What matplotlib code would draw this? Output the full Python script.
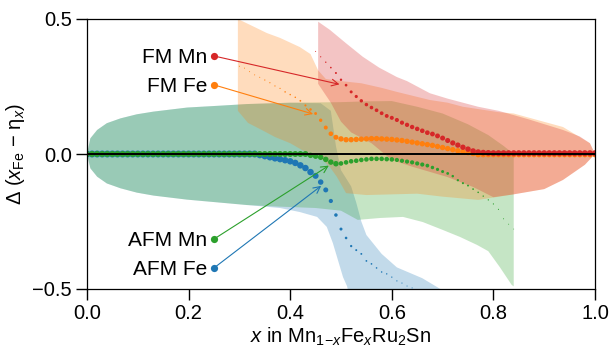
import numpy as np
import matplotlib
matplotlib.use("Agg")
import matplotlib.pyplot as plt
from matplotlib.ticker import FuncFormatter

plt.rcParams['font.family'] = ['Liberation Sans', 'DejaVu Sans']
plt.rcParams['mathtext.fontset'] = 'custom'
plt.rcParams['mathtext.rm'] = 'Liberation Sans'
plt.rcParams['mathtext.it'] = 'Liberation Sans:italic'
plt.rcParams['mathtext.bf'] = 'Liberation Sans:bold'

# --- data (step 0.01 in x) ---
# FM Mn (red)
fm_mn_x = np.round(np.arange(0.45, 1.001, 0.01), 2)
fm_mn_y = [0.38, 0.36, 0.34, 0.32, 0.30, 0.275, 0.255, 0.23, 0.213, 0.197,
           0.183, 0.172, 0.162, 0.151, 0.141, 0.134, 0.126, 0.116, 0.108, 0.100,
           0.093, 0.086, 0.079, 0.074, 0.067, 0.059, 0.050, 0.041, 0.033, 0.025,
           0.018, 0.011, 0.007, 0.005, 0.004] + [0.003] * 21
fm_mn_w = [1.0, 1.2, 1.4, 1.7, 2.0, 2.4, 2.7, 3.0, 3.2, 3.4,
           3.5, 3.6, 3.7, 3.8, 3.9, 4.0, 4.1, 4.2, 4.3, 4.4,
           4.5, 4.6, 4.7, 4.8, 4.9, 5.0, 5.1, 5.2, 5.3, 5.4,
           5.5, 5.6, 5.7, 5.8, 5.9] + [6.0] * 21

# FM Fe (orange)
fm_fe_x = np.round(np.arange(0.30, 1.001, 0.01), 2)
fm_fe_y = [0.325, 0.318, 0.305, 0.293, 0.284, 0.274, 0.264, 0.252, 0.243, 0.23,
           0.22, 0.21, 0.197, 0.18, 0.165, 0.15, 0.125, 0.098, 0.075, 0.062,
           0.056, 0.053, 0.053, 0.054, 0.055, 0.056, 0.057, 0.057, 0.056, 0.055,
           0.054, 0.052, 0.05, 0.047, 0.044, 0.041, 0.038, 0.035, 0.032, 0.028,
           0.024, 0.02, 0.016, 0.012, 0.008, 0.005, 0.002] + [-0.002] * 24
fm_fe_w = [1.0] * 5 + [1.2] * 4 + [1.5] * 3 + [1.8, 2.1, 2.5, 2.9, 3.4, 4.0, 4.6, 5.0] \
    + [5.4] * 26 + [5.6] * 25

# AFM Mn (green)
afm_mn_x = np.round(np.arange(0.0, 0.841, 0.01), 2)
afm_mn_y = [0.0] * 44 + [
    -0.005, -0.008, -0.012, -0.02, -0.03, -0.036, -0.035, -0.031, -0.027, -0.025,
    -0.022, -0.02, -0.018, -0.018, -0.018, -0.019, -0.02, -0.022, -0.025, -0.028,
    -0.031, -0.035, -0.039, -0.043, -0.05, -0.057, -0.065, -0.072, -0.082, -0.097,
    -0.108, -0.117, -0.13, -0.142, -0.156, -0.17, -0.185, -0.205, -0.24, -0.26,
    -0.278]
afm_mn_w = [6.0] * 44 + [5.5] * 6 + [4.6] * 11 + [4.2] * 6 + [
    3.8, 3.5, 3.2, 3.0, 2.8, 2.5, 2.3, 2.1, 1.9, 1.7, 1.6, 1.4, 1.3, 1.2, 1.1, 1.0, 0.9, 0.8]

# AFM Fe (blue)
afm_fe_x = np.round(np.arange(0.0, 0.641, 0.01), 2)
afm_fe_y = [0.0] * 34 + [
    -0.004, -0.008, -0.012, -0.016, -0.019, -0.023, -0.027, -0.033, -0.042, -0.052,
    -0.067, -0.081, -0.104, -0.133, -0.174, -0.226, -0.278, -0.311, -0.341, -0.356,
    -0.37, -0.396, -0.407, -0.422, -0.437, -0.444, -0.456, -0.47, -0.478, -0.489,
    -0.496]
afm_fe_w = [7.0] * 34 + [6.5] * 11 + [
    6.0, 5.5, 5.0, 4.2, 3.5, 3.0, 2.6, 2.3, 2.0, 1.9, 1.8, 1.7, 1.6, 1.5, 1.4, 1.3,
    1.2, 1.1, 1.0, 1.0]

# uncertainty bands (upper edge / lower edge)
afm_fe_up_x = [0.0, 0.0066, 0.02, 0.039, 0.066, 0.098, 0.131, 0.197, 0.262, 0.315,
               0.40, 0.46, 0.48, 0.49, 0.50, 0.52, 0.53, 0.54, 0.55, 0.58, 0.61, 0.66, 0.70, 0.72]
afm_fe_up_y = [0.0, 0.058, 0.089, 0.114, 0.132, 0.147, 0.157, 0.172, 0.179, 0.185,
               0.19, 0.188, 0.16, 0.03, -0.06, -0.12, -0.18, -0.25, -0.30, -0.37, -0.42, -0.46, -0.505, -0.56]
afm_fe_lo_x = [0.0, 0.0066, 0.02, 0.039, 0.066, 0.098, 0.131, 0.197, 0.262, 0.315,
               0.38, 0.419, 0.453, 0.472, 0.484, 0.494, 0.504, 0.512, 0.52]
afm_fe_lo_y = [0.0, -0.053, -0.084, -0.109, -0.127, -0.143, -0.154, -0.169, -0.18, -0.189,
               -0.2, -0.215, -0.233, -0.27, -0.33, -0.393, -0.456, -0.49, -0.56]

afm_mn_up_x = [0.0, 0.0066, 0.02, 0.039, 0.066, 0.098, 0.131, 0.197, 0.262, 0.315,
               0.40, 0.50, 0.55, 0.60, 0.65, 0.70, 0.75, 0.79, 0.82, 0.84]
afm_mn_up_y = [0.0, 0.058, 0.089, 0.114, 0.132, 0.147, 0.157, 0.172, 0.179, 0.185,
               0.19, 0.192, 0.195, 0.196, 0.175, 0.15, 0.11, 0.07, 0.03, 0.0]
afm_mn_lo_x = [0.0, 0.0066, 0.02, 0.039, 0.066, 0.098, 0.131, 0.197, 0.262, 0.315,
               0.38, 0.45, 0.50, 0.533, 0.577, 0.622, 0.661, 0.70, 0.734, 0.768,
               0.79, 0.813, 0.836, 0.84]
afm_mn_lo_y = [0.0, -0.053, -0.084, -0.109, -0.127, -0.143, -0.154, -0.169, -0.18, -0.189,
               -0.195, -0.2, -0.21, -0.244, -0.237, -0.233, -0.252, -0.281, -0.307, -0.337,
               -0.36, -0.42, -0.485, -0.49]

fm_fe_up_x = [0.297, 0.33, 0.354, 0.38, 0.419, 0.44, 0.455, 0.47, 0.50, 0.54, 0.58,
              0.61, 0.675, 0.71, 0.74, 0.81, 0.84, 0.937, 0.99, 1.0]
fm_fe_up_y = [0.50, 0.47, 0.448, 0.43, 0.396, 0.37, 0.31, 0.278, 0.27, 0.262, 0.245,
              0.23, 0.2, 0.19, 0.175, 0.155, 0.15, 0.10, 0.04, 0.0]
fm_fe_lo_x = [0.297, 0.317, 0.344, 0.37, 0.40, 0.423, 0.44, 0.46, 0.478, 0.492,
              0.51, 0.55, 0.65, 0.70, 0.77, 0.838, 0.9, 0.937, 0.98, 1.0]
fm_fe_lo_y = [0.16, 0.115, 0.089, 0.063, 0.04, 0.015, 0.0, -0.015, -0.048, -0.085,
              -0.145, -0.152, -0.147, -0.158, -0.17, -0.15, -0.13, -0.096, -0.04, 0.0]

fm_mn_up_x = [0.455, 0.478, 0.51, 0.543, 0.575, 0.61, 0.63, 0.675, 0.71, 0.77,
              0.81, 0.87, 0.937, 0.97, 0.99, 1.0]
fm_mn_up_y = [0.49, 0.46, 0.41, 0.36, 0.32, 0.285, 0.27, 0.225, 0.205, 0.175,
              0.16, 0.128, 0.089, 0.065, 0.04, 0.0]
fm_mn_lo_x = [0.455, 0.48, 0.50, 0.52, 0.56, 0.60, 0.642, 0.709, 0.76, 0.80,
              0.838, 0.9, 0.937, 0.98, 1.0]
fm_mn_lo_y = [0.26, 0.19, 0.12, 0.08, 0.04, -0.022, -0.048, -0.085, -0.122, -0.16,
              -0.15, -0.13, -0.096, -0.04, 0.0]

labels = ["FM Mn", "FM Fe", "AFM Mn", "AFM Fe"]
label_y = [0.363, 0.256, -0.315, -0.422]
arrow_to = [(0.497, 0.258), (0.445, 0.148), (0.476, -0.043), (0.461, -0.118)]

RED, ORANGE, GREEN, BLUE = "#d62728", "#ff7f0e", "#2ca02c", "#1f77b4"

DPI = 100
fig = plt.figure(figsize=(6.13, 3.58), dpi=DPI)
ax = fig.add_axes([87 / 613, 69 / 358, 508 / 613, 270 / 358])


def band(up_x, up_y, lo_x, lo_y, color):
    xs = list(up_x) + list(lo_x)[::-1]
    ys = list(up_y) + list(lo_y)[::-1]
    ax.fill(xs, ys, color=color, alpha=0.27, lw=0, zorder=1)


band(afm_fe_up_x, afm_fe_up_y, afm_fe_lo_x, afm_fe_lo_y, BLUE)
band(afm_mn_up_x, afm_mn_up_y, afm_mn_lo_x, afm_mn_lo_y, GREEN)
band(fm_fe_up_x, fm_fe_up_y, fm_fe_lo_x, fm_fe_lo_y, ORANGE)
band(fm_mn_up_x, fm_mn_up_y, fm_mn_lo_x, fm_mn_lo_y, RED)


def size(w):
    # w: dot diameter in pixels -> scatter area in pt^2
    return (np.array(w) * 72.0 / DPI) ** 2


ax.scatter(afm_fe_x, afm_fe_y, s=size(afm_fe_w), color=BLUE, lw=0, zorder=2)
ax.scatter(afm_mn_x, afm_mn_y, s=size(afm_mn_w), color=GREEN, lw=0, zorder=2)
ax.scatter(fm_fe_x, fm_fe_y, s=size(fm_fe_w), color=ORANGE, lw=0, zorder=2)
ax.scatter(fm_mn_x, fm_mn_y, s=size(fm_mn_w), color=RED, lw=0, zorder=2)

ax.axhline(0, color="k", lw=1.4, zorder=4)

# labels with arrows
for name, ly, tgt, c in zip(labels, label_y, arrow_to, [RED, ORANGE, GREEN, BLUE]):
    ax.annotate("", xy=tgt, xytext=(0.25, ly),
                arrowprops=dict(arrowstyle="->", color=c, lw=0.8,
                                mutation_scale=12, shrinkA=0, shrinkB=0),
                zorder=5)
    ax.plot(0.25, ly, "o", color=c, ms=5.2, mec="none", zorder=6)
    ax.annotate(name, xy=(0.25, ly), xytext=(-5, -5.3), textcoords="offset points",
                ha="right", va="baseline", fontsize=15, zorder=6)

ax.set_xlim(0, 1)
ax.set_ylim(-0.5, 0.5)
ax.set_xticks([0.0, 0.2, 0.4, 0.6, 0.8, 1.0])
ax.set_yticks([-0.5, 0.0, 0.5])
fmt = FuncFormatter(lambda v, pos: f"{v:.1f}".replace("-", "\u2212"))
ax.xaxis.set_major_formatter(fmt)
ax.yaxis.set_major_formatter(fmt)
ax.tick_params(direction="out", length=8, width=1, labelsize=14.5, pad=3)
for sp in ax.spines.values():
    sp.set_linewidth(0.9)

ax.set_xlabel(r"$x$ in Mn$_{1\!-\!x}$Fe$_x$Ru$_2$Sn", fontsize=14.5, labelpad=2)
ax.set_ylabel(r"Δ ($x_{\mathrm{Fe}}$ − η$_x$)", fontsize=14.5, labelpad=4)

fig.savefig("out.png", dpi=DPI)
